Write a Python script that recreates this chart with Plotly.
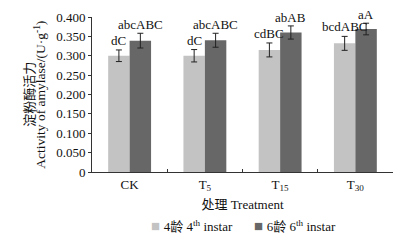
import plotly.graph_objects as go

categories = ["CK", "T<sub>5</sub>", "T<sub>15</sub>", "T<sub>30</sub>"]
instar4 = [0.300, 0.300, 0.315, 0.332]
instar4_err = [0.015, 0.016, 0.018, 0.018]
instar6 = [0.339, 0.340, 0.360, 0.369]
instar6_err = [0.019, 0.018, 0.017, 0.015]
labels4 = ["dC", "dC", "cdBC", "bcdABC"]
labels6 = ["abcABC", "abcABC", "abAB", "aA"]
series_names = ["4龄 4<sup>th</sup> instar", "6龄 6<sup>th</sup> instar"]
yticks = [0, 0.05, 0.10, 0.15, 0.20, 0.25, 0.30, 0.35, 0.40]
ytick_text = ["0", "0.050", "0.100", "0.150", "0.200", "0.250", "0.300", "0.350", "0.400"]

SERIF = "Liberation Serif, Times New Roman, Noto Sans CJK SC, serif"
LIGHT = "#c3c3c3"
DARK = "#676767"
BARGAP = 0.43

fig = go.Figure()
fig.add_trace(go.Bar(
    x=categories, y=instar4, name=series_names[0], showlegend=False,
    marker=dict(color=LIGHT, line=dict(width=0)),
    error_y=dict(type="data", array=instar4_err, color="#222222", thickness=1, width=3),
))
fig.add_trace(go.Bar(
    x=categories, y=instar6, name=series_names[1], showlegend=False,
    marker=dict(color=DARK, line=dict(width=0)),
    error_y=dict(type="data", array=instar6_err, color="#222222", thickness=1, width=3),
))

half = (1 - BARGAP) / 4
for i in range(len(categories)):
    fig.add_annotation(x=i - half, y=instar4[i] + instar4_err[i], xref="x", yref="y",
                       text=labels4[i], showarrow=False, yanchor="bottom", yshift=1,
                       borderpad=0, font=dict(family=SERIF, size=13, color="#111"))
    fig.add_annotation(x=i + half, y=instar6[i] + instar6_err[i], xref="x", yref="y",
                       text=labels6[i], showarrow=False, yanchor="bottom", yshift=0,
                       borderpad=0, font=dict(family=SERIF, size=13, color="#111"))

# y-axis title (two lines)
fig.add_annotation(x=-0.212, y=0.5, xref="paper", yref="paper", text="淀粉酶活力",
                   textangle=-90, showarrow=False, xanchor="center", yanchor="middle",
                   font=dict(family="Noto Sans CJK SC", size=13, color="#111"))
fig.add_annotation(x=-0.172, y=0.5, xref="paper", yref="paper",
                   text="Activity of amylase/(U·g<sup>-1</sup>)",
                   textangle=-90, showarrow=False, xanchor="center", yanchor="middle",
                   font=dict(family=SERIF, size=13.5, color="#111"))

# legend drawn as text entries
for name, color, xp in [(series_names[0], LIGHT, 0.188), (series_names[1], DARK, 0.530)]:
    fig.add_annotation(x=xp, y=-0.35, xref="paper", yref="paper",
                       text=f"<span style='color:{color};font-size:15px'>■ </span>{name}",
                       showarrow=False, xanchor="left", yanchor="middle",
                       font=dict(family=SERIF, size=13, color="#111"))

# page body has an 8px margin: figure is sized/positioned to compensate
fig.update_layout(
    width=386, height=228,
    margin=dict(l=84, r=1, t=9, b=64),
    paper_bgcolor="white", plot_bgcolor="white",
    barmode="group", bargap=BARGAP, bargroupgap=0,
    font=dict(family=SERIF, size=13, color="#111"),
    showlegend=False,
    xaxis=dict(
        showline=True, linecolor="#333", linewidth=1,
        ticks="inside", tickson="boundaries", ticklen=3, tickcolor="#333",
        showgrid=False, zeroline=False,
        title=dict(text="处理 Treatment", font=dict(family=SERIF, size=13), standoff=7),
        tickfont=dict(family=SERIF, size=13),
    ),
    yaxis=dict(
        range=[0, 0.4], tickvals=yticks, ticktext=ytick_text,
        showline=True, linecolor="#333", linewidth=1,
        ticks="outside", ticklen=3, tickcolor="#333",
        showgrid=False, zeroline=False,
        tickfont=dict(family=SERIF, size=13),
    ),
)

fig.write_html("out.html")
